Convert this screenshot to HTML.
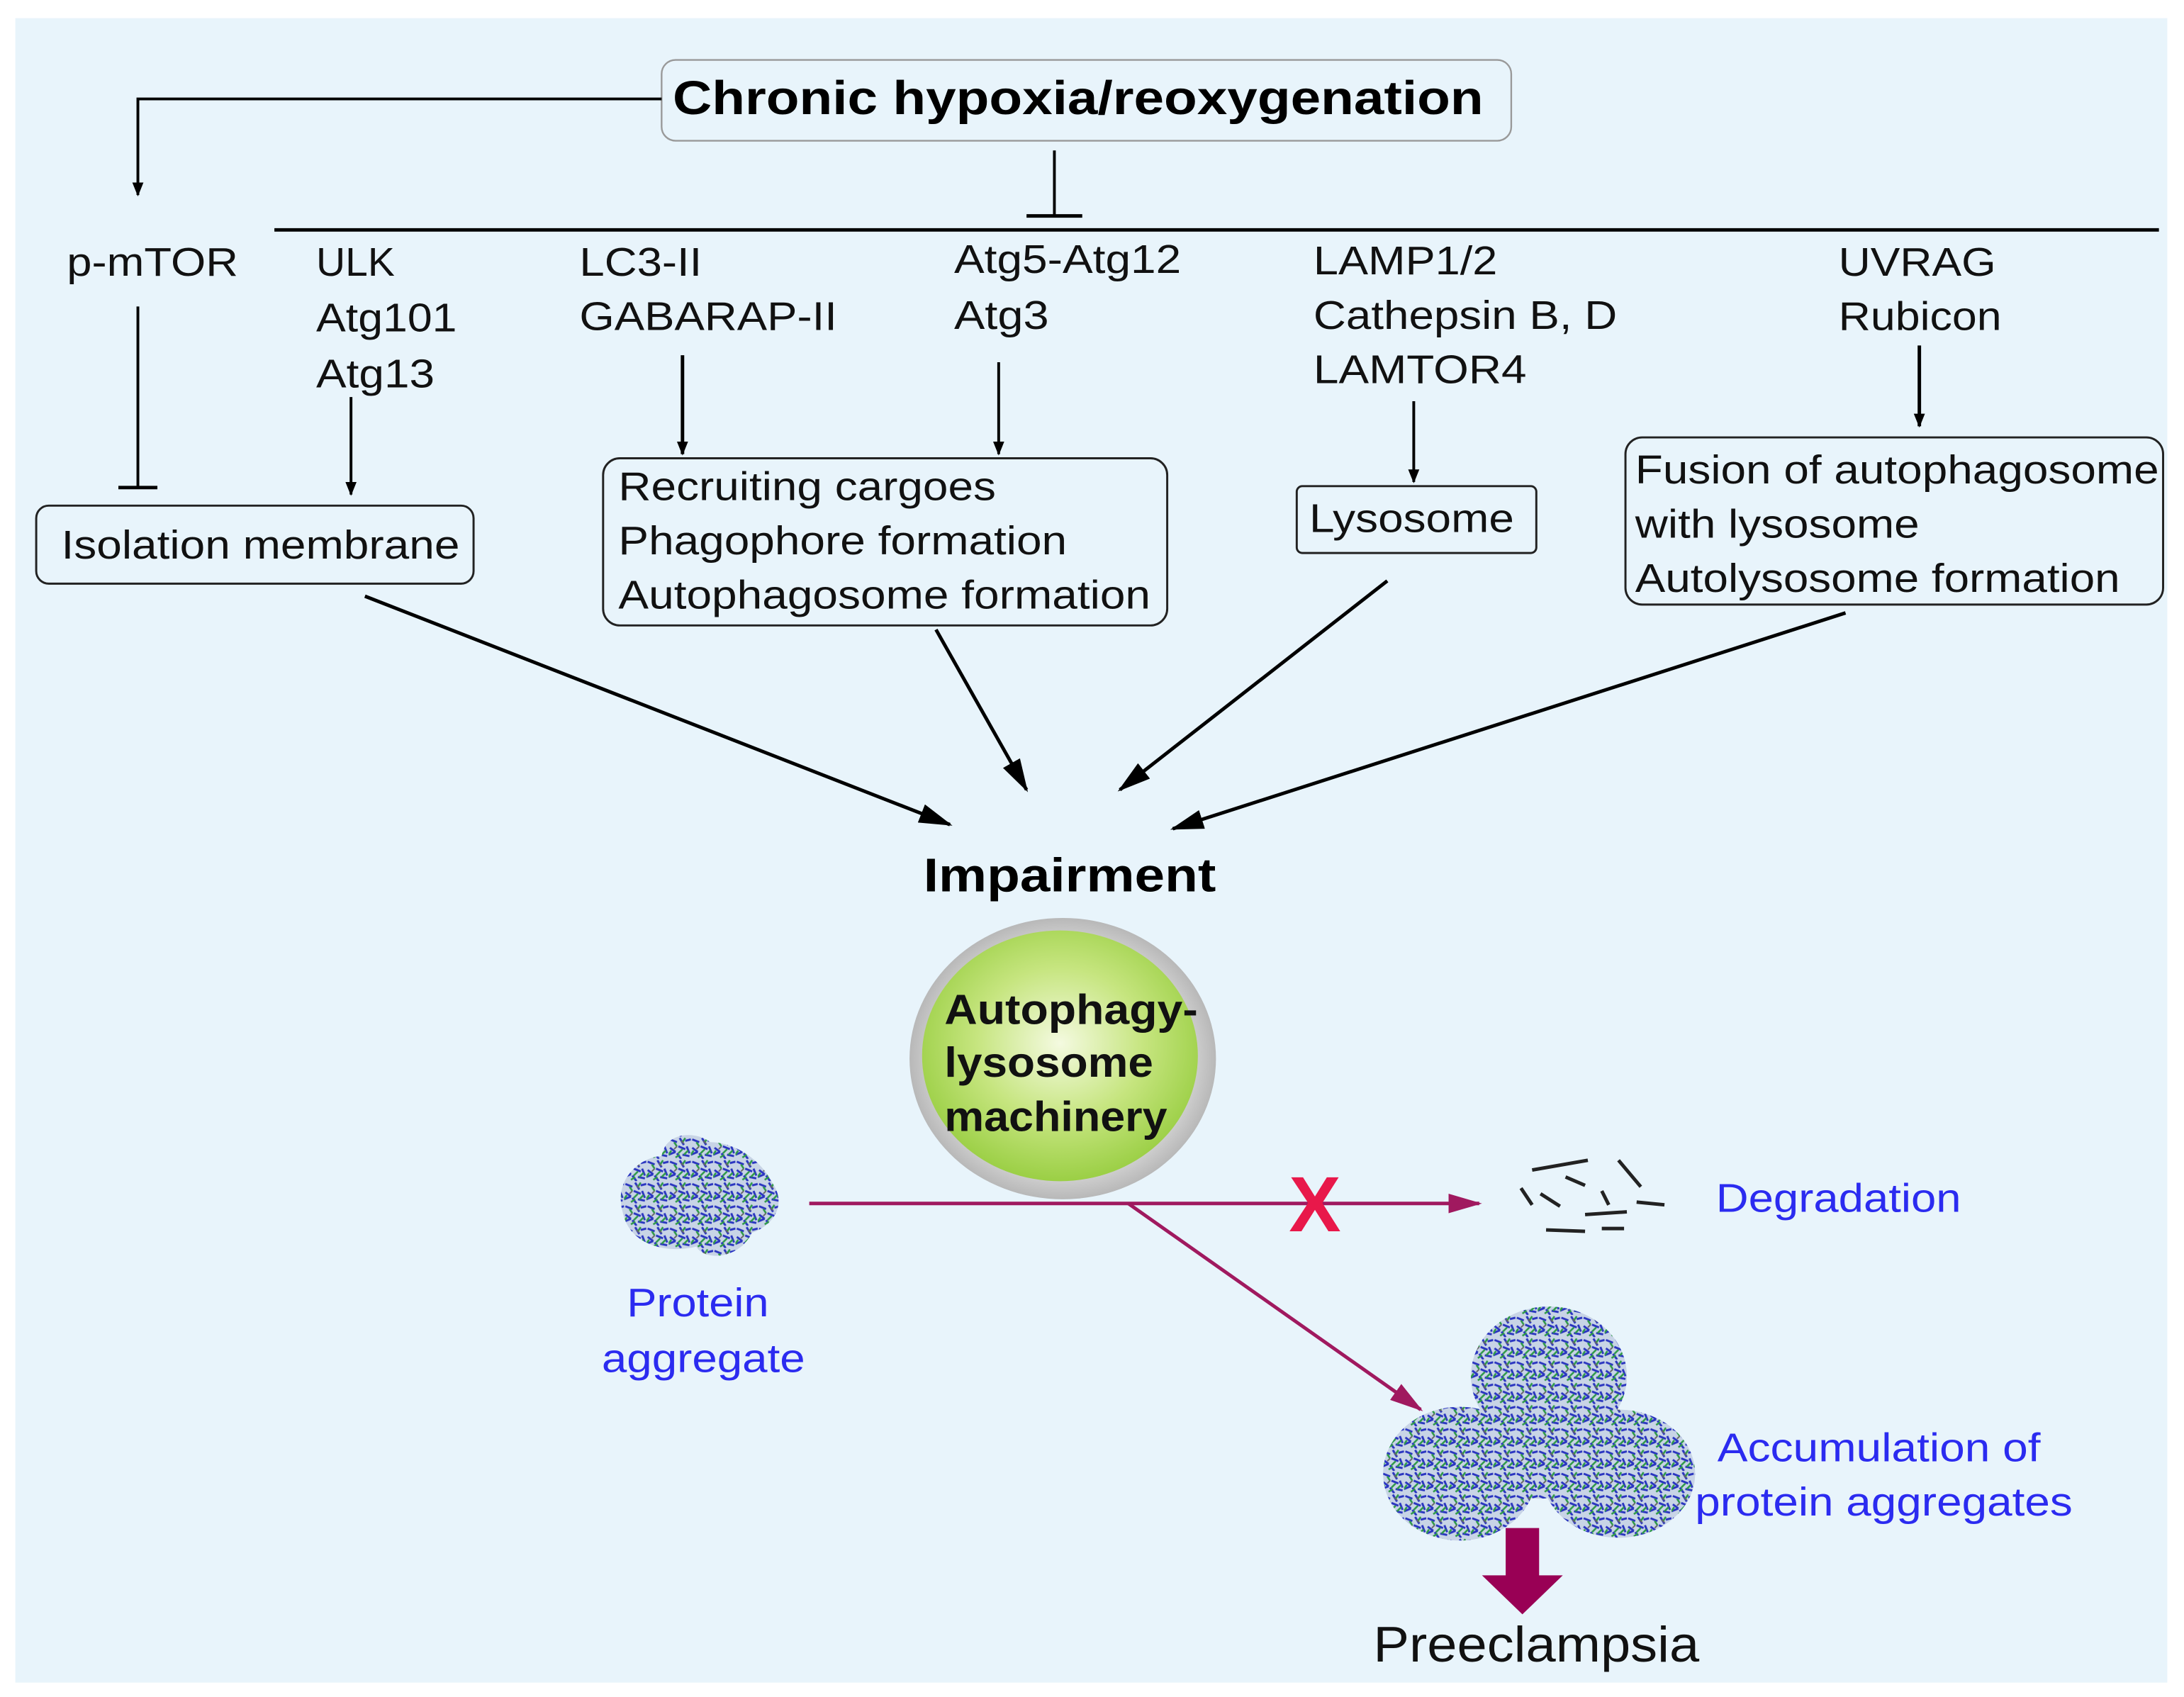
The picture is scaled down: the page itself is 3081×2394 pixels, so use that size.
<!DOCTYPE html>
<html><head><meta charset="utf-8"><style>html,body{margin:0;padding:0;background:#fff}svg{display:block}svg text{font-family:"Liberation Sans",Arial,sans-serif}</style></head>
<body>
<svg width="3081" height="2394" viewBox="0 0 1568 1218.3" xmlns="http://www.w3.org/2000/svg" style="font-family:'Liberation Sans',Arial,sans-serif">
<defs>
<marker id="ab" markerWidth="10" markerHeight="10" refX="9" refY="5" orient="auto" markerUnits="userSpaceOnUse"><path d="M0,1 L10,5 L0,9 z" fill="#000"/></marker>
<marker id="ab2" markerWidth="24" markerHeight="14" refX="22" refY="7" orient="auto" markerUnits="userSpaceOnUse"><path d="M0,0 L24,7 L0,14 z" fill="#000"/></marker>
<marker id="am" markerWidth="24" markerHeight="14" refX="22" refY="7" orient="auto" markerUnits="userSpaceOnUse"><path d="M0,0 L24,7 L0,14 z" fill="#a0195f"/></marker>
<pattern id="prot" width="16" height="16" patternUnits="userSpaceOnUse">
<rect width="16" height="16" fill="#c8d4e6"/>
<path d="M1,2 l5,2 M8,1 l3,5 M12,3 l4,-1 M1,8 l4,3 M7,7 l5,2 M13,7 l2,5 M0,13 l5,-2 M6,12 l3,4 M10,13 l5,1" stroke="#2a35c0" stroke-width="1.5"/>
<path d="M4,4 l2,3 M10,9 l-3,3 M14,10 l-3,3 M2,10 l-2,3 M12,1 l-2,3 M5,15 l3,-2" stroke="#2f9a48" stroke-width="1.3"/>
<path d="M9,3 l2,2 M4,9 l2,-2" stroke="#666" stroke-width="1"/>
</pattern>
<radialGradient id="gr" cx="0.5" cy="0.45" r="0.55"><stop offset="0" stop-color="#f4fae0"/><stop offset="0.55" stop-color="#c6e57f"/><stop offset="1" stop-color="#9bcf45"/></radialGradient>
<radialGradient id="gy" cx="0.5" cy="0.5" r="0.5"><stop offset="0.85" stop-color="#d0d0d0"/><stop offset="1" stop-color="#b8b8b8"/></radialGradient>
</defs>
<rect x="11" y="13" width="1545" height="1195" fill="#e8f4fb"/>

<rect x="475" y="43" width="610" height="58" rx="10" fill="#e8f4fb" stroke="#999" stroke-width="1.2"/>
<text x="483" y="82" font-size="34" font-weight="bold" textLength="582" lengthAdjust="spacingAndGlyphs">Chronic hypoxia/reoxygenation</text>
<polyline points="475,71 99,71 99,140" fill="none" stroke="#000" stroke-width="2" marker-end="url(#ab)"/>
<line x1="757" y1="108" x2="757" y2="155" stroke="#000" stroke-width="2"/>
<line x1="737" y1="155" x2="777" y2="155" stroke="#000" stroke-width="2.5"/>
<line x1="197" y1="165" x2="1550" y2="165" stroke="#000" stroke-width="2.5"/>

<g font-size="29" fill="#111">
<text x="48" y="198" textLength="123" lengthAdjust="spacingAndGlyphs">p-mTOR</text>
<text x="227" y="198">ULK</text><text x="227" y="238" textLength="101" lengthAdjust="spacingAndGlyphs">Atg101</text><text x="227" y="278" textLength="85" lengthAdjust="spacingAndGlyphs">Atg13</text>
<text x="416" y="198" textLength="88" lengthAdjust="spacingAndGlyphs">LC3-II</text><text x="416" y="237" textLength="185" lengthAdjust="spacingAndGlyphs">GABARAP-II</text>
<text x="685" y="196" textLength="163" lengthAdjust="spacingAndGlyphs">Atg5-Atg12</text><text x="685" y="236" textLength="68" lengthAdjust="spacingAndGlyphs">Atg3</text>
<text x="943" y="197" textLength="132" lengthAdjust="spacingAndGlyphs">LAMP1/2</text><text x="943" y="236" textLength="218" lengthAdjust="spacingAndGlyphs">Cathepsin B, D</text><text x="943" y="275" textLength="153" lengthAdjust="spacingAndGlyphs">LAMTOR4</text>
<text x="1320" y="198" textLength="113" lengthAdjust="spacingAndGlyphs">UVRAG</text><text x="1320" y="237" textLength="117" lengthAdjust="spacingAndGlyphs">Rubicon</text>
</g>

<line x1="99" y1="220" x2="99" y2="350" stroke="#000" stroke-width="2"/>
<line x1="85" y1="350" x2="113" y2="350" stroke="#000" stroke-width="2.5"/>
<line x1="252" y1="285" x2="252" y2="355" stroke="#000" stroke-width="2" marker-end="url(#ab)"/>
<line x1="490" y1="255" x2="490" y2="326" stroke="#000" stroke-width="2.5" marker-end="url(#ab)"/>
<line x1="717" y1="260" x2="717" y2="326" stroke="#000" stroke-width="2" marker-end="url(#ab)"/>
<line x1="1015" y1="288" x2="1015" y2="346" stroke="#000" stroke-width="2" marker-end="url(#ab)"/>
<line x1="1378" y1="248" x2="1378" y2="306" stroke="#000" stroke-width="2.5" marker-end="url(#ab)"/>

<g fill="none" stroke="#222" stroke-width="1.5">
<rect x="26" y="363" width="314" height="56" rx="9"/>
<rect x="433" y="329" width="405" height="120" rx="12"/>
<rect x="931" y="349" width="172" height="48" rx="4"/>
<rect x="1167" y="314" width="386" height="120" rx="12"/>
</g>
<g font-size="29" fill="#111">
<text x="44" y="401" textLength="286" lengthAdjust="spacingAndGlyphs">Isolation membrane</text>
<text x="444" y="359" textLength="271" lengthAdjust="spacingAndGlyphs">Recruiting cargoes</text>
<text x="444" y="398" textLength="322" lengthAdjust="spacingAndGlyphs">Phagophore formation</text>
<text x="444" y="437" textLength="382" lengthAdjust="spacingAndGlyphs">Autophagosome formation</text>
<text x="940" y="382" textLength="147" lengthAdjust="spacingAndGlyphs">Lysosome</text>
<text x="1174" y="347" textLength="376" lengthAdjust="spacingAndGlyphs">Fusion of autophagosome</text>
<text x="1174" y="386" textLength="204" lengthAdjust="spacingAndGlyphs">with lysosome</text>
<text x="1174" y="425" textLength="348" lengthAdjust="spacingAndGlyphs">Autolysosome formation</text>
</g>

<g stroke="#000" stroke-width="2.5">
<line x1="262" y1="428" x2="682" y2="592" marker-end="url(#ab2)"/>
<line x1="672" y1="452" x2="737" y2="567" marker-end="url(#ab2)"/>
<line x1="996" y1="417" x2="804" y2="567" marker-end="url(#ab2)"/>
<line x1="1325" y1="440" x2="842" y2="595" marker-end="url(#ab2)"/>
</g>

<text x="663" y="640" font-size="34" font-weight="bold" textLength="210" lengthAdjust="spacingAndGlyphs">Impairment</text>

<ellipse cx="763" cy="760" rx="110" ry="101" fill="url(#gy)"/>
<ellipse cx="761" cy="758" rx="99" ry="90" fill="url(#gr)"/>
<g font-size="30" font-weight="bold" fill="#111">
<text x="678" y="735" textLength="182" lengthAdjust="spacingAndGlyphs">Autophagy-</text>
<text x="678" y="773" textLength="150" lengthAdjust="spacingAndGlyphs">lysosome</text>
<text x="678" y="812" textLength="160" lengthAdjust="spacingAndGlyphs">machinery</text>
</g>

<path d="M447,870 C440,845 462,830 475,830 C478,812 500,812 510,820 C525,820 545,830 555,850 C565,865 555,880 540,885 C530,905 505,905 500,895 C480,900 452,895 447,870 z" fill="url(#prot)"/>
<g font-size="29" fill="#2b2bf0">
<text x="501" y="945" text-anchor="middle" textLength="102" lengthAdjust="spacingAndGlyphs">Protein</text>
<text x="505" y="985" text-anchor="middle" textLength="146" lengthAdjust="spacingAndGlyphs">aggregate</text>
<text x="1232" y="870" textLength="176" lengthAdjust="spacingAndGlyphs">Degradation</text>
<text x="1233" y="1049" textLength="232" lengthAdjust="spacingAndGlyphs">Accumulation of</text>
<text x="1217" y="1088" textLength="271" lengthAdjust="spacingAndGlyphs">protein aggregates</text>
</g>

<line x1="581" y1="864" x2="1062" y2="864" stroke="#a0195f" stroke-width="2.5" marker-end="url(#am)"/>
<line x1="810" y1="864" x2="1020" y2="1012" stroke="#a0195f" stroke-width="2.5" marker-end="url(#am)"/>
<text x="944" y="884" font-size="56" font-weight="bold" fill="#e8184a" text-anchor="middle">X</text>

<g stroke="#222" stroke-width="2.5">
<line x1="1100" y1="840" x2="1140" y2="833"/>
<line x1="1162" y1="833" x2="1178" y2="852"/>
<line x1="1124" y1="845" x2="1138" y2="851"/>
<line x1="1092" y1="853" x2="1100" y2="865"/>
<line x1="1106" y1="857" x2="1120" y2="866"/>
<line x1="1150" y1="855" x2="1155" y2="865"/>
<line x1="1175" y1="863" x2="1195" y2="865"/>
<line x1="1138" y1="872" x2="1168" y2="870"/>
<line x1="1110" y1="883" x2="1138" y2="884"/>
<line x1="1150" y1="882" x2="1166" y2="882"/>
</g>

<g fill="url(#prot)">
<ellipse cx="1112" cy="988" rx="56" ry="50"/>
<ellipse cx="1048" cy="1058" rx="55" ry="48"/>
<ellipse cx="1162" cy="1058" rx="55" ry="46"/>
<ellipse cx="1105" cy="1040" rx="38" ry="36"/>
</g>

<path d="M1081,1097 h24 v34 h17 l-29,28 l-29,-28 h17 z" fill="#990055"/>
<text x="986" y="1193" font-size="36" fill="#111" textLength="234" lengthAdjust="spacingAndGlyphs">Preeclampsia</text>
</svg>
</body></html>
